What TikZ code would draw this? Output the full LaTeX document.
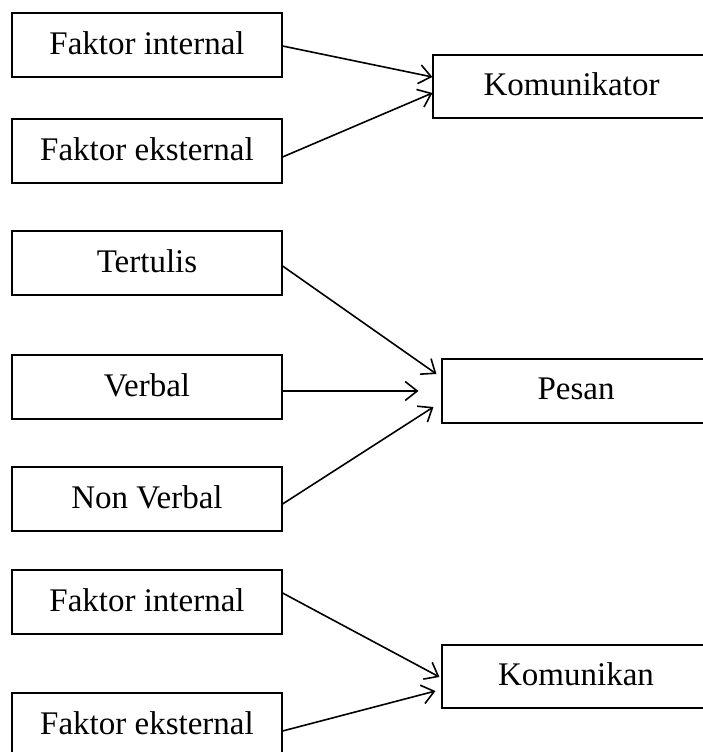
\documentclass[tikz,border=0pt]{standalone}
\usepackage{fontspec}
\setmainfont{Liberation Serif}
\usetikzlibrary{arrows.meta,calc}
\tikzset{
  box/.style={draw=black, line width=1.1pt, rectangle, inner sep=0pt, text depth=4pt,
    font=\fontsize{33}{38}\selectfont},
  lbox/.style={box, minimum width=270pt, minimum height=64pt},
  conn/.style={line width=1.6pt, -{Straight Barb[length=12pt,width=19pt,line width=1.6pt]}}
}
\begin{document}
\begin{tikzpicture}[x=1pt,y=-1pt]
\clip (0,0) rectangle (703,752);
\fill[white] (0,0) rectangle (703,752);
% left boxes
\node[lbox] (fi1) at (147,45) {Faktor internal};
\node[lbox] (fe1) at (147,151) {Faktor eksternal};
\node[lbox] (ter) at (147,263) {Tertulis};
\node[lbox] (ver) at (147,387) {Verbal};
\node[lbox] (nv)  at (147,499) {Non Verbal};
\node[lbox] (fi3) at (147,602) {Faktor internal};
\node[lbox] (fe3) at (147,725) {Faktor eksternal};
% right boxes
\node[box, minimum width=277pt, minimum height=63pt] (kom) at (571.5,86.5) {Komunikator};
\node[box, minimum width=268pt, minimum height=64pt] (pes) at (576,391) {Pesan};
\node[box, minimum width=268pt, minimum height=63pt] (kmk) at (576,676.5) {Komunikan};
% connectors
\draw[conn] ($(fi1.east)+(0,1)$) -- ($(kom.west)+(0,-9.5)$);
\draw[conn] ($(fe1.east)+(0,6)$) -- ($(kom.west)+(0,6.5)$);
\draw[conn] ($(ter.east)+(0,3)$) -- ($(pes.west)+(-5,-17)$);
\draw[conn] ($(ver.east)+(0,4)$) -- ($(pes.west)+(-23,0)$);
\draw[conn] ($(nv.east)+(0,5)$) -- ($(pes.west)+(-8,16)$);
\draw[conn] ($(fi3.east)+(0,-9)$) -- ($(kmk.west)+(-2,0.5)$);
\draw[conn] ($(fe3.east)+(0,6)$) -- ($(kmk.west)+(-6,14.5)$);
\end{tikzpicture}
\end{document}
